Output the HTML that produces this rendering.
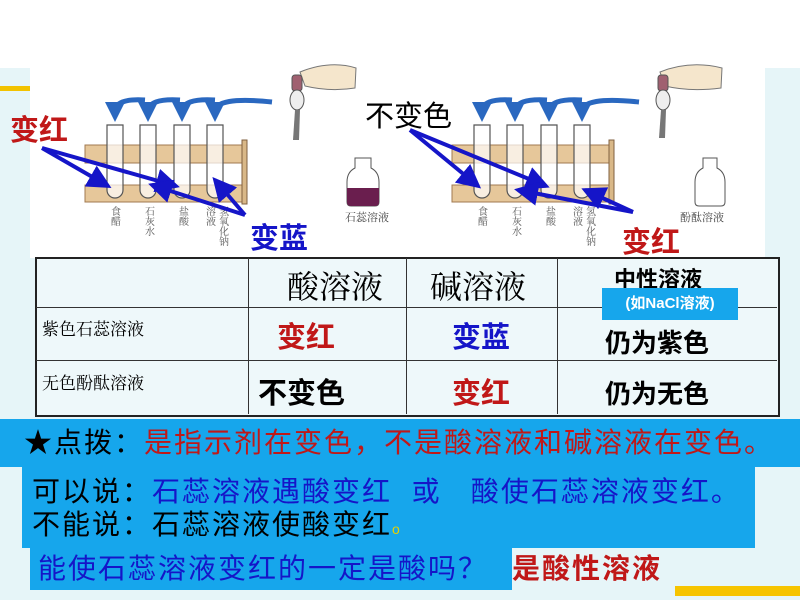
<!DOCTYPE html>
<html><head><meta charset="utf-8"><style>
body{margin:0;width:800px;height:600px;position:relative;overflow:hidden;background:#fff;font-family:"Liberation Sans","Noto Sans CJK SC",sans-serif}
.a{position:absolute;white-space:nowrap}
.cj{font-family:"Liberation Serif","Noto Serif CJK SC",serif}
.b{font-weight:bold}
.t{font-size:28px;line-height:34px}
</style></head><body>
<div class="a" style="left:0;top:68px;width:800px;height:532px;background:#e6f5f8"></div>
<div class="a" style="left:0;top:86px;width:30px;height:5px;background:#f2c200"></div>
<div class="a" style="left:30px;top:45px;width:735px;height:213px;background:#fff"></div>
<div class="a" style="left:675px;top:586px;width:125px;height:10px;background:#f6c400"></div>

<svg class="a" style="left:0;top:0" width="800" height="260" viewBox="0 0 800 260">
<defs>
<marker id="ah" markerWidth="6" markerHeight="6" refX="5" refY="3" orient="auto"><path d="M0,0L6,3L0,6z" fill="#1515c8"/></marker>
<marker id="cb" markerWidth="4" markerHeight="4" refX="2" refY="2" orient="auto"><path d="M0,0L4,2L0,4z" fill="#2a68c0"/></marker>
</defs>
<g id="set">
 <rect x="85" y="145" width="160" height="18" fill="#e6c79a" stroke="#a07a50"/>
 <rect x="85" y="185" width="160" height="17" fill="#e6c79a" stroke="#a07a50"/>
 <rect x="242" y="140" width="5" height="64" fill="#d9b888" stroke="#806040"/>
 <g fill="#fff" fill-opacity="0.7" stroke="#555" stroke-width="1.2">
  <path d="M107,125v65a8,8 0 0 0 16,0v-65z"/>
  <path d="M140,125v65a8,8 0 0 0 16,0v-65z"/>
  <path d="M174,125v65a8,8 0 0 0 16,0v-65z"/>
  <path d="M207,125v65a8,8 0 0 0 16,0v-65z"/>
 </g>
 <g fill="none" stroke="#2a68c0" stroke-width="5" marker-end="url(#cb)">
  <path d="M145,100 Q115,98 115,112"/>
  <path d="M180,100 Q148,98 148,112"/>
  <path d="M215,100 Q182,98 182,112"/>
  <path d="M272,102 Q215,96 215,112"/>
 </g>
</g>
<use href="#set" transform="translate(367,0)"/>
<path d="M300,72 Q330,60 356,68 L355,88 Q330,92 305,86z" fill="#f5e6cc" stroke="#777"/>
<rect x="292" y="75" width="10" height="16" rx="3" fill="#a06070" stroke="#555"/>
<ellipse cx="297" cy="100" rx="7" ry="10" fill="#eee" stroke="#555"/>
<path d="M295,110 L293,140 L299,140 L300,110z" fill="#777"/>
<path d="M660,72 Q690,60 722,68 L721,88 Q690,92 665,86z" fill="#f5e6cc" stroke="#777"/>
<rect x="658" y="75" width="10" height="16" rx="3" fill="#a06070" stroke="#555"/>
<ellipse cx="663" cy="100" rx="7" ry="10" fill="#eee" stroke="#555"/>
<path d="M661,110 L659,138 L665,138 L666,110z" fill="#777"/>
<path d="M355,158h16v10q8,4 8,14v20q0,4 -4,4h-24q-4,0 -4,-4v-20q0,-10 8,-14z" fill="#fff" stroke="#555"/>
<path d="M347,188h32v14q0,4 -4,4h-24q-4,0 -4,-4z" fill="#6a1e4e"/>
<path d="M703,158h14v10q8,4 8,14v20q0,4 -4,4h-22q-4,0 -4,-4v-20q0,-10 8,-14z" fill="#fff" stroke="#555"/>
<g font-family="Liberation Serif,Noto Serif CJK SC,serif" font-size="11" fill="#444">
<text x="345" y="221">石蕊溶液</text><text x="680" y="221">酚酞溶液</text>
</g>
<g font-family="Liberation Serif,Noto Serif CJK SC,serif" font-size="10" fill="#555" writing-mode="tb">
<text x="114" y="206">食醋</text><text x="148" y="206">石灰水</text><text x="182" y="206">盐酸</text><text x="209" y="206">溶液</text><text x="222" y="206">氢氧化钠</text>
<text x="481" y="206">食醋</text><text x="515" y="206">石灰水</text><text x="549" y="206">盐酸</text><text x="576" y="206">溶液</text><text x="589" y="206">氢氧化钠</text>
</g>
<g stroke="#1515c8" stroke-width="4" fill="none" marker-end="url(#ah)">
<path d="M42,148L108,186"/><path d="M42,148L176,186"/>
<path d="M245,215L152,185"/><path d="M245,215L215,180"/>
<path d="M410,130L478,186"/><path d="M410,130L546,186"/>
<path d="M633,212L518,190"/><path d="M633,212L585,190"/>
</g>
</svg>
<div class="a b" style="left:10px;top:107px;font-size:29px;color:#c01818">变红</div>
<div class="a b" style="left:250px;top:215px;font-size:29px;color:#1515c8">变蓝</div>
<div class="a" style="left:365px;top:93px;font-size:29px;color:#000">不变色</div>
<div class="a b" style="left:622px;top:219px;font-size:29px;color:#c01818">变红</div>

<div class="a" style="left:35px;top:257px;width:741px;height:156px;border:2px solid #222;background:#eef8fa"></div>
<div class="a" style="left:248px;top:258px;width:1px;height:156px;background:#333"></div>
<div class="a" style="left:406px;top:258px;width:1px;height:156px;background:#333"></div>
<div class="a" style="left:557px;top:258px;width:1px;height:156px;background:#333"></div>
<div class="a" style="left:36px;top:307px;width:741px;height:1px;background:#333"></div>
<div class="a" style="left:36px;top:360px;width:741px;height:1px;background:#333"></div>
<div class="a cj" style="left:287px;top:262px;font-size:32px">酸溶液</div>
<div class="a cj" style="left:430px;top:262px;font-size:32px">碱溶液</div>
<div class="a b" style="left:614px;top:262px;font-size:22px">中性溶液</div>
<div class="a b" style="left:602px;top:288px;width:136px;height:32px;background:#16a6ec;color:#fff;font-size:15px;text-align:center;line-height:32px">(如NaCl溶液)</div>
<div class="a cj" style="left:42px;top:315px;font-size:17px">紫色石蕊溶液</div>
<div class="a cj" style="left:42px;top:369px;font-size:17px">无色酚酞溶液</div>
<div class="a b" style="left:277px;top:314px;font-size:29px;color:#c01818">变红</div>
<div class="a b" style="left:452px;top:314px;font-size:29px;color:#1515c8">变蓝</div>
<div class="a b" style="left:605px;top:323px;font-size:26px">仍为紫色</div>
<div class="a b" style="left:258px;top:370px;font-size:29px">不变色</div>
<div class="a b" style="left:452px;top:370px;font-size:29px;color:#c01818">变红</div>
<div class="a b" style="left:605px;top:374px;font-size:26px">仍为无色</div>

<div class="a" style="left:0;top:419px;width:800px;height:48px;background:#16a6ec"></div>
<div class="a" style="left:22px;top:466px;width:733px;height:82px;background:#16a6ec"></div>
<div class="a" style="left:30px;top:547px;width:482px;height:43px;background:#16a6ec"></div>
<div class="a t" style="left:24px;top:426px;letter-spacing:2px"><span style="color:#000">★点拨：</span><span style="color:#c01818">是指示剂在变色，不是酸溶液和碱溶液在变色。</span></div>
<div class="a t" style="left:32px;top:475px;letter-spacing:2px"><span>可以说：</span><span style="color:#1515c8">石蕊溶液遇酸变红&nbsp; 或 &nbsp;&nbsp;酸使石蕊溶液变红。</span></div>
<div class="a t" style="left:32px;top:508px;letter-spacing:2px">不能说：石蕊溶液使酸变红<span style="color:#e8d000;font-size:14px">o</span></div>
<div class="a t" style="left:38px;top:552px;letter-spacing:2px;color:#1515c8">能使石蕊溶液变红的一定是酸吗？</div>
<div class="a t b" style="left:512px;top:552px;letter-spacing:2px;color:#c01818">是酸性溶液</div>
</body></html>
